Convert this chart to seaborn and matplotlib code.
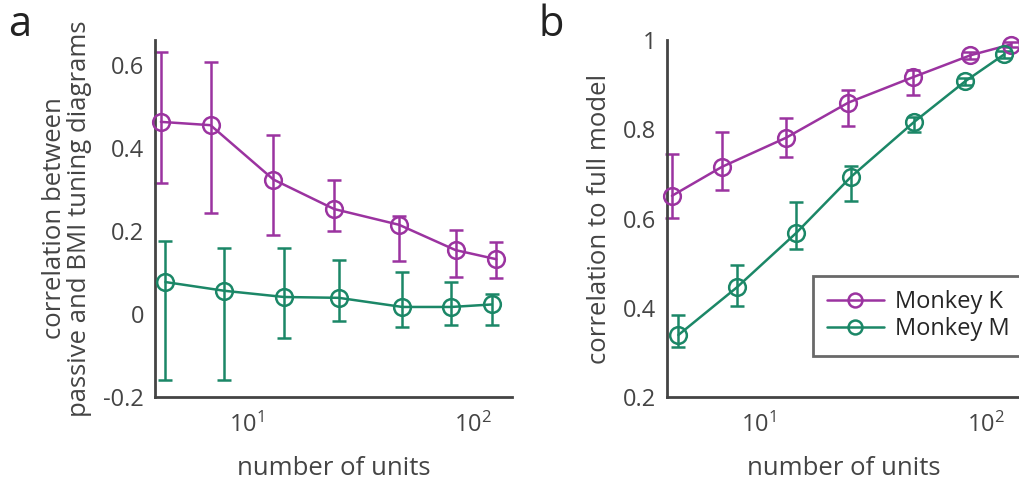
import numpy as np
import pandas as pd
import matplotlib
matplotlib.use('Agg')
import matplotlib.pyplot as plt
import seaborn as sns
from matplotlib.ticker import LogLocator, NullFormatter

# panel a: correlation between passive and BMI tuning diagrams
a_k_units = [4.16, 6.9, 13.1, 24.3, 47.1, 83.8, 127]
a_k_mean = [0.463, 0.455, 0.324, 0.253, 0.215, 0.154, 0.132]
a_k_low = [0.315, 0.244, 0.190, 0.201, 0.128, 0.088, 0.086]
a_k_high = [0.632, 0.608, 0.431, 0.322, 0.235, 0.203, 0.173]

a_m_units = [4.36, 7.94, 14.6, 25.5, 48.7, 80.4, 121]
a_m_mean = [0.077, 0.056, 0.041, 0.039, 0.017, 0.017, 0.023]
a_m_low = [-0.158, -0.160, -0.057, -0.017, -0.031, -0.027, -0.027]
a_m_high = [0.177, 0.160, 0.158, 0.130, 0.102, 0.076, 0.048]

# panel b: correlation to full model
b_k_units = [4.15, 6.9, 13.2, 24.9, 48, 85.9, 129]
b_k_mean = [0.651, 0.716, 0.781, 0.860, 0.917, 0.966, 0.990]
b_k_low = [0.601, 0.663, 0.737, 0.807, 0.878, 0.958, 0.984]
b_k_high = [0.745, 0.793, 0.825, 0.888, 0.933, 0.974, 0.996]

b_m_units = [4.43, 8.03, 14.6, 25.6, 48.6, 81.6, 121]
b_m_mean = [0.339, 0.446, 0.567, 0.694, 0.817, 0.908, 0.968]
b_m_low = [0.313, 0.404, 0.531, 0.640, 0.795, 0.900, 0.960]
b_m_high = [0.384, 0.496, 0.636, 0.718, 0.828, 0.916, 0.976]

names = ['Monkey K', 'Monkey M']
colors = {'Monkey K': '#9B33A0', 'Monkey M': '#1B8767'}

sns.set_style('white')
plt.rcParams['font.family'] = ['Open Sans', 'DejaVu Sans']
plt.rcParams['mathtext.fontset'] = 'custom'
plt.rcParams['mathtext.rm'] = 'Open Sans'
plt.rcParams['mathtext.it'] = 'Open Sans'

gray = '#444444'

fig = plt.figure(figsize=(10.2, 4.83), dpi=100)
ax_a = fig.add_axes([0.152, 0.178, 0.350, 0.739])
ax_b = fig.add_axes([0.654, 0.178, 0.346, 0.739])


def draw(ax, series):
    rows = []
    for name, (u, m, lo, hi) in zip(names, series):
        for x, y in zip(u, m):
            rows.append({'units': x, 'corr': y, 'monkey': name})
        err = [np.array(m) - np.array(lo), np.array(hi) - np.array(m)]
        ax.errorbar(u, m, yerr=err, fmt='none', ecolor=colors[name],
                    elinewidth=1.8, capsize=5, capthick=1.8, zorder=2)
    n_before = len(ax.get_lines())
    df = pd.DataFrame(rows)
    sns.lineplot(data=df, x='units', y='corr', hue='monkey', palette=colors,
                 marker='o', markersize=12, markerfacecolor='none',
                 markeredgewidth=1.8, linewidth=1.8, ax=ax, zorder=3,
                 legend=True)
    for line in ax.get_lines()[n_before:]:
        c = line.get_color()
        line.set_markeredgecolor(c)
        line.set_markerfacecolor('none')
    for line in ax.get_lines():
        line.set_clip_on(False)
    ax.set_xscale('log')
    ax.xaxis.set_major_locator(LogLocator(base=10))
    ax.xaxis.set_minor_locator(LogLocator(base=10, subs=np.arange(2, 10)))
    ax.xaxis.set_minor_formatter(NullFormatter())
    sns.despine(ax=ax)
    for s in ['left', 'bottom']:
        ax.spines[s].set_color(gray)
        ax.spines[s].set_linewidth(2)
    ax.tick_params(axis='both', which='major', direction='in', length=5,
                   width=1.5, color=gray, labelsize=17, labelcolor=gray, pad=8)
    ax.tick_params(axis='x', which='minor', direction='in', length=3,
                   width=1.2, color=gray)
    ax.tick_params(axis='x', which='major', pad=11)
    ax.set_xlabel('number of units', fontsize=18.5, color=gray, labelpad=13)


draw(ax_a, [(a_k_units, a_k_mean, a_k_low, a_k_high),
            (a_m_units, a_m_mean, a_m_low, a_m_high)])
ax_a.set_xlim(3.92, 149)
ax_a.set_ylim(-0.2, 0.66)
ax_a.set_yticks([-0.2, 0, 0.2, 0.4, 0.6])
ax_a.set_yticklabels(['-0.2', '0', '0.2', '0.4', '0.6'])
ax_a.set_ylabel('correlation between\npassive and BMI tuning diagrams',
                fontsize=18.5, color=gray, labelpad=8, linespacing=1.0)
ax_a.get_legend().remove()

draw(ax_b, [(b_k_units, b_k_mean, b_k_low, b_k_high),
            (b_m_units, b_m_mean, b_m_low, b_m_high)])
ax_b.set_xlim(3.95, 142)
ax_b.set_ylim(0.2, 1.0)
ax_b.set_yticks([0.2, 0.4, 0.6, 0.8, 1.0])
ax_b.set_yticklabels(['0.2', '0.4', '0.6', '0.8', '1'])
ax_b.set_ylabel('correlation to full model', fontsize=18.5, color=gray,
                labelpad=8)

leg = ax_b.legend(title=None, loc='upper left', bbox_to_anchor=(0.413, 0.34),
                  fontsize=17, frameon=True, fancybox=False, handlelength=2.4,
                  borderpad=0.6, labelspacing=0.15, handletextpad=0.5,
                  borderaxespad=0)
leg.get_frame().set_edgecolor(gray)
leg.get_frame().set_linewidth(2)
for h in leg.legend_handles:
    h.set_markerfacecolor('none')
    h.set_markersize(10)

fig.text(0.008, 0.925, 'a', fontsize=30, color='#222222')
fig.text(0.528, 0.925, 'b', fontsize=30, color='#222222')

fig.savefig('out.png', dpi=100)
